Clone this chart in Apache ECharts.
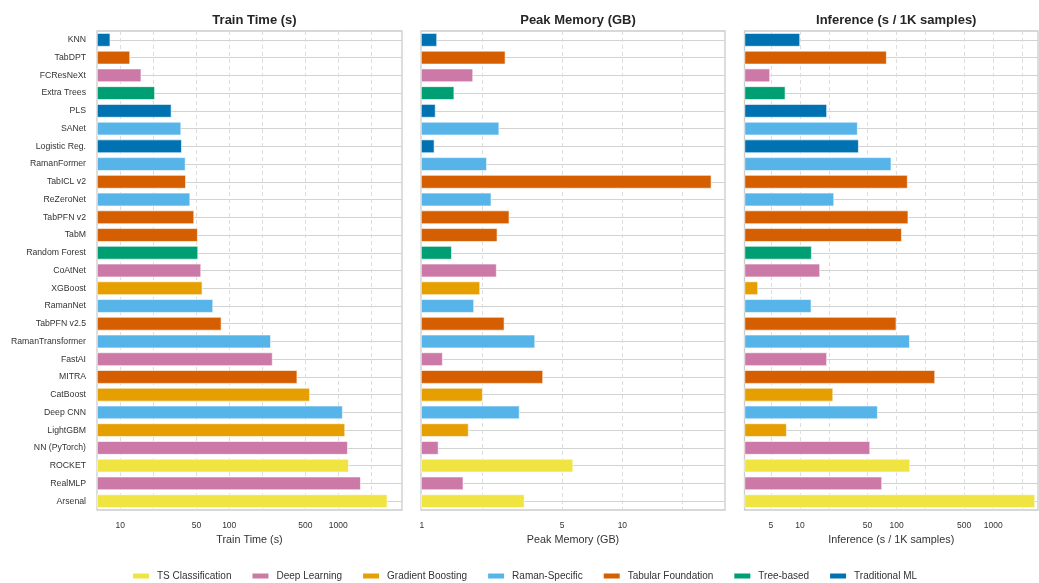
<!DOCTYPE html>
<html>
<head>
<meta charset="utf-8">
<script src="https://cdn.jsdelivr.net/npm/echarts@6/dist/echarts.min.js"></script>
<style>
  html, body { margin: 0; padding: 0; background: #fff; }
  #chart { width: 1039px; height: 583px; }
</style>
</head>
<body>
<div id="chart"></div>
<script>
const categories = ['KNN', 'TabDPT', 'FCResNeXt', 'Extra Trees', 'PLS', 'SANet', 'Logistic Reg.',
  'RamanFormer', 'TabICL v2', 'ReZeroNet', 'TabPFN v2', 'TabM', 'Random Forest', 'CoAtNet',
  'XGBoost', 'RamanNet', 'TabPFN v2.5', 'RamanTransformer', 'FastAI', 'MITRA', 'CatBoost',
  'Deep CNN', 'LightGBM', 'NN (PyTorch)', 'ROCKET', 'RealMLP', 'Arsenal']

const families = ['Traditional ML', 'Tabular Foundation', 'Deep Learning', 'Tree-based',
  'Traditional ML', 'Raman-Specific', 'Traditional ML', 'Raman-Specific', 'Tabular Foundation',
  'Raman-Specific', 'Tabular Foundation', 'Tabular Foundation', 'Tree-based', 'Deep Learning',
  'Gradient Boosting', 'Raman-Specific', 'Tabular Foundation', 'Raman-Specific', 'Deep Learning',
  'Tabular Foundation', 'Gradient Boosting', 'Raman-Specific', 'Gradient Boosting', 'Deep Learning',
  'TS Classification', 'Deep Learning', 'TS Classification']

const trainTime = [8.1, 12.3, 15.6, 20.8, 29.5, 36.2, 36.7, 39.7, 40, 43.8, 47.6, 51.4, 51.8, 55.2,
  56.7, 71.1, 84.8, 241, 250, 421, 550, 1100, 1156, 1224, 1250, 1610, 2825]

const peakMemory = [1.19, 2.61, 1.8, 1.45, 1.17, 2.43, 1.155, 2.11, 27.8, 2.22, 2.73, 2.38, 1.41,
  2.36, 1.95, 1.82, 2.58, 3.67, 1.27, 4.02, 2.01, 3.07, 1.71, 1.21, 5.68, 1.61, 3.25]

const inference = [10, 78.9, 4.89, 7.05, 19, 39.5, 40.5, 88.1, 130, 22.5, 132, 113, 13.2, 16.1,
  3.67, 13.1, 99.3, 137, 19, 250, 22, 63.7, 7.28, 53.1, 138, 70.6, 2710]

const legendOrder = ['TS Classification', 'Deep Learning', 'Gradient Boosting', 'Raman-Specific',
  'Tabular Foundation', 'Tree-based', 'Traditional ML']
const familyColors = ['#F0E442', '#CC79A7', '#E69F00', '#56B4E9', '#D55E00', '#009E73', '#0072B2']

const trainLabels = [10, 50, 100, 500, 1000]
const trainGrid = [10, 20, 50, 100, 200, 500, 1000, 2000]
const memoryLabels = [1, 5, 10]
const memoryGrid = [2, 5, 10, 20]
const inferenceLabels = [5, 10, 50, 100, 500, 1000]
const inferenceGrid = [5, 10, 20, 50, 100, 200, 500, 1000, 2000]

const panels = [
  { title: 'Train Time (s)', values: trainTime, labels: trainLabels, lines: trainGrid,
    min: 6.12, max: 3850, left: 97, width: 305 },
  { title: 'Peak Memory (GB)', values: peakMemory, labels: memoryLabels, lines: memoryGrid,
    min: 0.99, max: 32.5, left: 421, width: 304 },
  { title: 'Inference (s / 1K samples)', values: inference, labels: inferenceLabels, lines: inferenceGrid,
    min: 2.66, max: 2910, left: 744.5, width: 293.5 }
]

const FONT = '"Liberation Sans", Arial, sans-serif'
const TEXT = '#333333'

const chart = echarts.init(document.getElementById('chart'))

const series = []
panels.forEach((p, pi) => {
  legendOrder.forEach((fam, fi) => {
    series.push({
      name: fam,
      type: 'bar',
      xAxisIndex: pi,
      yAxisIndex: pi,
      barWidth: '76%',
      barGap: '-100%',
      clip: true,
      itemStyle: { color: familyColors[fi], borderColor: '#ffffff', borderWidth: 0.6 },
      emphasis: { disabled: true },
      data: p.values.map((v, i) => (families[i] === fam ? v : '-'))
    })
  })
})

chart.setOption({
  animation: false,
  textStyle: { fontFamily: FONT },
  title: panels.map(p => ({
    text: p.title,
    left: p.left + p.width / 2,
    top: 9,
    textAlign: 'center',
    textStyle: { fontFamily: FONT, fontSize: 13, fontWeight: 'bold', color: '#262626' }
  })),
  legend: {
    data: legendOrder,
    left: 131,
    top: 571,
    padding: 0,
    icon: 'rect',
    itemWidth: 18,
    itemHeight: 7,
    itemGap: 19,
    textStyle: { fontFamily: FONT, fontSize: 10, color: TEXT, padding: [0, 0, 0, 2] }
  },
  grid: panels.map(p => ({
    left: p.left,
    width: p.width,
    top: 31,
    height: 479,
    show: true,
    borderColor: '#cccccc',
    borderWidth: 1.3,
    backgroundColor: 'transparent'
  })),
  xAxis: panels.map((p, pi) => ({
    type: 'log',
    gridIndex: pi,
    min: p.min,
    max: p.max,
    startValue: p.min,
    name: p.title,
    nameLocation: 'middle',
    nameGap: 23,
    nameTextStyle: { fontFamily: FONT, fontSize: 10.8, color: TEXT },
    axisLine: { show: false },
    axisTick: { show: false, customValues: p.lines },
    axisLabel: {
      customValues: p.labels,
      margin: 11,
      fontFamily: FONT,
      fontSize: 8.5,
      color: TEXT,
      formatter: v => String(v)
    },
    splitLine: { show: true, lineStyle: { color: '#dddddd', width: 1, type: [4, 3] } }
  })),
  yAxis: panels.map((p, pi) => ({
    type: 'category',
    gridIndex: pi,
    inverse: true,
    data: categories,
    axisLine: { show: false },
    axisTick: { show: false },
    axisLabel: {
      show: pi === 0,
      interval: 0,
      margin: 11,
      fontFamily: FONT,
      fontSize: 8.7,
      color: TEXT
    },
    splitLine: {
      show: true,
      interval: 0,
      alignWithLabel: true,
      lineStyle: { color: '#d3d3d3', width: 1.2 }
    }
  })),
  series
})
</script>
</body>
</html>
